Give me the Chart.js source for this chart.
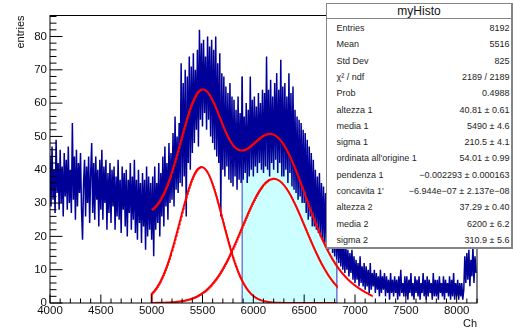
<!DOCTYPE html>
<html>
<head>
<meta charset="utf-8">
<script src="https://cdn.jsdelivr.net/npm/chart.js@4.4.1/dist/chart.umd.min.js"></script>
<style>
  html, body { margin: 0; padding: 0; background: #fff; overflow: hidden; }
  #wrap { position: relative; width: 513px; height: 331px; }
  #c { position: absolute; left: 0; top: 0; }
  #stats {
    position: absolute; left: 326px; top: 3px; width: 187px; height: 246px;
    box-sizing: border-box; background: #fff;
    border: 1px solid #858585; border-right-width: 2px; border-bottom-width: 2px;
    font-family: "Liberation Sans", Arial, Helvetica, sans-serif; color: #1e1e1e;
  }
  #stats .title {
    position: absolute; left: 0; right: 0; top: 0; height: 13.5px;
    border-bottom: 1px solid #858585; text-align: center;
    font-size: 12px; line-height: 14px; color: #111;
  }
  #stats .row {
    position: absolute; left: 9.5px; right: 1.5px; height: 16.28px;
    line-height: 16.28px; font-size: 9px; display: flex; justify-content: space-between;
    white-space: nowrap;
  }
</style>
</head>
<body>
<div id="wrap">
  <canvas id="c" width="513" height="331" style="width:513px;height:331px"></canvas>
  <div id="stats"></div>
</div>
<script>
// Histogram "myHisto": counts every 10 channels, starting at channel 4000
const firstChannel = 4000;
const channelsPerPoint = 10;
const channelCounts = [
  44, 29, 47, 31, 40, 27, 49, 33, 42, 28,
  46, 30, 41, 26, 45, 32, 43, 28, 47, 30,
  40, 27, 54, 31, 44, 25, 46, 29, 42, 33,
  45, 28, 19, 36, 43, 26, 41, 30, 44, 24,
  39, 48, 27, 42, 25, 44, 31, 40, 23, 43,
  28, 46, 25, 41, 30, 43, 22, 39, 27, 42,
  24, 40, 29, 41, 22, 38, 26, 43, 25, 37,
  21, 41, 28, 39, 23, 40, 20, 37, 27, 42,
  22, 38, 25, 43, 21, 37, 19, 40, 24, 36,
  18, 39, 23, 37, 16, 41, 20, 38, 22, 36,
  19, 38, 14, 41, 22, 36, 24, 42, 20, 39,
  26, 44, 23, 47, 29, 42, 25, 48, 30, 45,
  31, 51, 29, 56, 34, 50, 33, 54, 36, 72,
  35, 66, 38, 70, 26, 68, 42, 74, 40, 71,
  45, 75, 48, 70, 52, 76, 47, 82, 55, 78,
  53, 79, 57, 74, 52, 80, 55, 77, 50, 79,
  48, 76, 46, 80, 44, 72, 42, 75, 26, 69,
  40, 68, 38, 65, 41, 63, 37, 66, 36, 62,
  35, 61, 38, 58, 34, 62, 37, 57, 36, 68,
  37, 56, 39, 60, 36, 58, 38, 68, 40, 61,
  38, 62, 41, 59, 39, 63, 42, 60, 40, 64,
  39, 63, 41, 74, 40, 64, 38, 67, 42, 62,
  40, 66, 43, 69, 39, 64, 42, 73, 38, 65,
  38, 66, 40, 62, 36, 69, 39, 63, 35, 65,
  34, 58, 33, 56, 31, 55, 32, 54, 30, 52,
  30, 51, 27, 49, 25, 47, 26, 45, 23, 43,
  23, 40, 22, 38, 21, 39, 20, 36, 19, 35,
  18, 33, 17, 31, 16, 30, 17, 28, 15, 27,
  14, 26, 13, 24, 12, 22, 11, 20, 10, 18,
   9, 17, 10, 16,  8, 15,  9, 16,  7, 14,
   6, 13,  7, 12,  5, 14,  6, 11,  5, 12,
   4, 11,  5, 10,  3, 12,  4,  9,  5, 10,
   3,  9,  4,  8,  2, 10,  3,  8,  4,  9,
   2,  8,  3,  7,  1,  9,  3,  7,  2,  8,
   3,  7,  1,  8,  2, 10,  3,  6,  2,  8,
   2,  8,  1,  7,  3,  9,  2,  6,  1,  8,
   3,  7,  2,  8,  1,  6,  3,  9,  2,  7,
   1,  8,  2,  7,  3,  6,  1,  9,  2,  7,
   2,  7,  1,  8,  3,  6,  2,  8,  1,  7,
   3,  6,  2,  8,  1,  7,  2,  9,  1,  6,
   2,  7,  1,  6,  2,  6,  1,  4, 14,  6,
  15,  7, 16,  5, 13,  8, 17,  6, 14,  9
];

// Axis ranges and labelled ticks
const xRange = [4000, 8200];
const yRange = [0, 86.3];
const xTickLabels = [4000, 4500, 5000, 5500, 6000, 6500, 7000, 7500, 8000];
const yTickLabels = [0, 10, 20, 30, 40, 50, 60, 70, 80];
const xMinorStep = 100;
const yMinorStep = 2;

// Statistics box
const summaryNames = ['Entries', 'Mean', 'Std Dev', '\u03c7\u00b2 / ndf', 'Prob'];
const summaryValues = ['8192', '5516', '825', '2189 / 2189', '0.4988'];

// Fit: gauss 1 + pol2 background + gauss 2
const paramNames = ['altezza 1', 'media 1', 'sigma 1', "ordinata all'origine 1", 'pendenza 1',
                    "concavita 1'", 'altezza 2', 'media 2', 'sigma 2'];
const paramValues = ['40.81', '5490', '210.5', '54.01', '\u22120.002293', '\u22126.944e\u221207',
                     '37.29', '6200', '310.9'];
const paramErrors = ['0.61', '4.6', '4.1', '0.99', '0.000163', '2.137e\u221208', '0.40', '6.2', '5.6'];

const fitRange = [5000, 7170];        // total fit curve
const componentRange = [5000, 6822];  // the two gaussian components
const shadeRange = [5889, 6822];      // shaded part of the histogram

const FONT = '"Liberation Sans", Arial, Helvetica, sans-serif';

const num = s => parseFloat(s.replace(/\u2212/g, '-'));
const p = paramValues.map(num);
const gauss1 = p.slice(0, 3);
const background = p.slice(3, 6);
const gauss2 = p.slice(6, 9);

const gaussAt = (g, x) => g[0] * Math.exp(-0.5 * Math.pow((x - g[1]) / g[2], 2));
const polAt = (c, x) => c[0] + c[1] * x + c[2] * x * x;
const totalAt = x => gaussAt(gauss1, x) + polAt(background, x) + gaussAt(gauss2, x);

function sampleCurve(range, f) {
  const pts = [];
  for (let x = range[0]; x < range[1]; x += 5) pts.push({ x, y: f(x) });
  pts.push({ x: range[1], y: f(range[1]) });
  return pts;
}

const histPoints = channelCounts.map((v, i) => ({ x: firstChannel + i * channelsPerPoint, y: v }));
const inShade = histPoints.filter(pt => pt.x >= shadeRange[0] && pt.x <= shadeRange[1]);
const shadePoints = [{ x: shadeRange[0], y: 0 }, ...inShade, { x: shadeRange[1], y: 0 }];
const lastShadeSeg = shadePoints.length - 2;

const gauss1Points = [{ x: componentRange[0], y: 0 }, ...sampleCurve(componentRange, x => gaussAt(gauss1, x))];
const gauss2Points = sampleCurve(componentRange, x => gaussAt(gauss2, x));
const totalPoints = sampleCurve(fitRange, totalAt);

// Frame plus ticks drawn inside the frame
const frameTicks = {
  id: 'frameTicks',
  afterDatasetsDraw(chart) {
    const { ctx, chartArea: a, scales: { x, y } } = chart;
    ctx.save();
    ctx.strokeStyle = '#000';
    ctx.lineWidth = 1;
    ctx.beginPath();
    for (let v = xRange[0]; v <= xRange[1] + 1e-6; v += xMinorStep) {
      const px = x.getPixelForValue(v);
      const len = xTickLabels.includes(v) ? 8.5 : 4.5;
      ctx.moveTo(px, a.bottom);
      ctx.lineTo(px, a.bottom - len);
    }
    for (let v = yRange[0]; v <= yRange[1] + 1e-6; v += yMinorStep) {
      const py = y.getPixelForValue(v);
      const len = yTickLabels.includes(v) ? 12.5 : 6.5;
      ctx.moveTo(a.left, py);
      ctx.lineTo(a.left + len, py);
    }
    ctx.stroke();
    ctx.strokeRect(a.left, a.top, a.right - a.left, a.bottom - a.top);
    ctx.restore();
  }
};

new Chart(document.getElementById('c'), {
  type: 'line',
  data: {
    datasets: [
      { data: totalPoints, borderColor: '#ff0000', borderWidth: 2, pointRadius: 0, fill: false, order: 0 },
      { data: gauss1Points, borderColor: '#ff0000', borderWidth: 2, pointRadius: 0, fill: false, order: 1 },
      { data: gauss2Points, borderColor: '#ff0000', borderWidth: 2, pointRadius: 0, fill: false, order: 2 },
      { data: histPoints, borderColor: '#000099', borderWidth: 1.5, pointRadius: 0, fill: false, order: 3 },
      {
        data: shadePoints, borderWidth: 1.2, pointRadius: 0, fill: 'origin',
        backgroundColor: '#ccffff', borderColor: '#4b5fc4', order: 4,
        segment: {
          borderColor: c => (c.p0DataIndex === 0 || c.p0DataIndex === lastShadeSeg) ? '#4b5fc4' : 'rgba(0,0,0,0)'
        }
      }
    ]
  },
  options: {
    responsive: false,
    animation: false,
    devicePixelRatio: 1,
    layout: { padding: { top: 15.5, right: 36, left: 0, bottom: 0 } },
    elements: { line: { tension: 0 }, point: { radius: 0 } },
    plugins: { legend: { display: false }, tooltip: { enabled: false } },
    scales: {
      x: {
        type: 'linear', min: xRange[0], max: xRange[1],
        grid: { display: false, drawTicks: false },
        border: { display: false },
        afterBuildTicks: s => { s.ticks = xTickLabels.map(v => ({ value: v })); },
        afterFit: s => { s.height = 28; },
        ticks: {
          padding: 1, color: '#111', autoSkip: false, maxRotation: 0,
          font: { family: FONT, size: 11.5 },
          callback: v => String(v)
        },
        title: {
          display: true, text: 'Ch', align: 'end', color: '#111',
          font: { family: FONT, size: 11 }, padding: { top: 0, bottom: 0.5 }
        }
      },
      y: {
        type: 'linear', min: yRange[0], max: yRange[1],
        grid: { display: false, drawTicks: false },
        border: { display: false },
        afterBuildTicks: s => { s.ticks = yTickLabels.map(v => ({ value: v })); },
        afterFit: s => { s.width = 50; },
        ticks: {
          padding: 3, color: '#111', autoSkip: false,
          font: { family: FONT, size: 11.5 },
          callback: v => String(v)
        },
        title: {
          display: true, text: 'entries', align: 'end', color: '#111',
          font: { family: FONT, size: 11 }, padding: { top: 14.4, bottom: 0 }
        }
      }
    }
  },
  plugins: [frameTicks]
});

// Statistics box contents
const stats = document.getElementById('stats');
const title = document.createElement('div');
title.className = 'title';
title.textContent = 'myHisto';
stats.appendChild(title);

const rows = summaryNames.map((n, i) => [n, summaryValues[i]])
  .concat(paramNames.map((n, i) => [n, paramValues[i] + ' \u00b1 ' + paramErrors[i]]));
rows.forEach(([name, value], i) => {
  const row = document.createElement('div');
  row.className = 'row';
  row.style.top = (16.2 + 16.28 * i) + 'px';
  const l = document.createElement('span');
  l.textContent = name;
  const r = document.createElement('span');
  r.textContent = value;
  row.appendChild(l);
  row.appendChild(r);
  stats.appendChild(row);
});
</script>
</body>
</html>
